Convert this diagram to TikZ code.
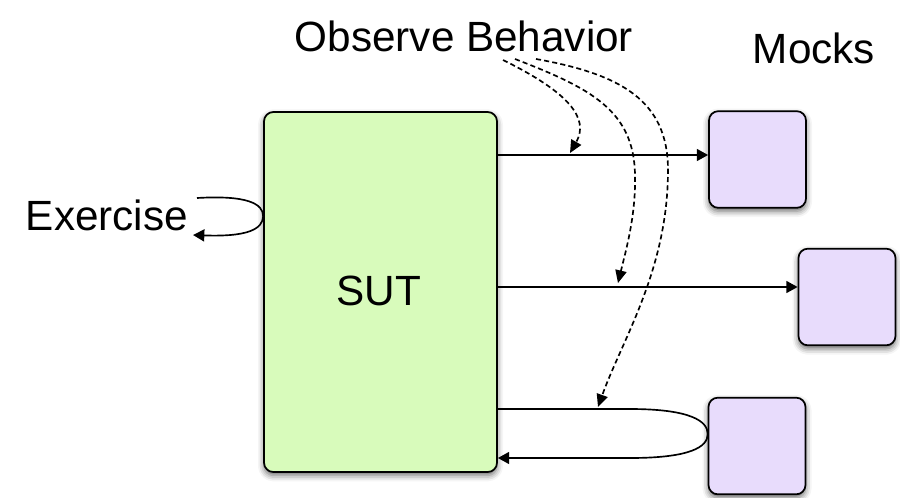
\documentclass[tikz,border=0pt]{standalone}
\usepackage{fontspec}
\setmainfont{Liberation Sans}
\usetikzlibrary{arrows.meta,shadows.blur,calc}
\definecolor{sutgreen}{RGB}{216,251,187}
\definecolor{mockpurple}{RGB}{232,220,252}
\tikzset{
  box/.style={draw=black, line width=1.3pt, rounded corners=7pt, inner sep=0pt,
    blur shadow={shadow xshift=0pt, shadow yshift=-2.5pt, shadow blur radius=4.5pt, shadow opacity=60}},
  sutbox/.style={box, fill=sutgreen, minimum width=174.75pt, minimum height=270pt},
  mockbox/.style={box, fill=mockpurple, minimum width=72.75pt, minimum height=72.5pt},
  label/.style={font=\fontsize{31.7}{36}\selectfont, inner sep=0pt, anchor=base},
  flow/.style={line width=1.25pt, -{Triangle[length=8.5pt,width=9pt]}},
  observe/.style={line width=1.25pt, dash pattern=on 3.8pt off 2.4pt,
    -{Triangle[length=9.5pt,width=8.5pt]}}
}
\begin{document}
\begin{tikzpicture}[x=0.75pt,y=-0.75pt]
\useasboundingbox (0,0) rectangle (900,497);

% system under test and its mocks
\node[sutbox] (sut) at (380.5,292) {};
\node[label] (sutlbl) at (379,305) {SUT};
\node[mockbox] (m1) at (757.5,159.5) {};
\node[mockbox] (m2) at (847,297) {};
\node[mockbox] (m3) at (757,446) {};

% captions
\node[label] (obs) at (464,51) {Observe Behavior};
\node[label] (mocks) at (814,63) {Mocks};
\node[label] (ex) at (107,230) {Exercise};

% calls from the SUT to the mocks
\draw[flow] (sut.east |- 0,155) coordinate (c1) -- (m1.west |- 0,155);
\draw[flow] (sut.east |- 0,287) coordinate (c2) -- (m2.west |- 0,287);
\draw[flow] (sut.east |- 0,409) coordinate (c3)
  -- (630,409) .. controls (690,409) and (708,421) .. (m3.west |- 0,434)
  .. controls (708,447) and (690,458) .. (630,458) -- (sut.east |- 0,458);

% exercising the SUT
\coordinate (exs) at (197,198);
\draw[flow] (exs) .. controls (248,195) and (263,204) .. (sut.west |- 0,216)
  .. controls (263,229) and (248,237) .. (193,235);

% observing the outgoing calls
\coordinate (o1) at (503,60);
\coordinate (o2) at (515,59);
\coordinate (o3) at (536,59);
\draw[observe] (o1) .. controls (568,92) and (590,118) .. (570,153);
\draw[observe] (o2) .. controls (590,88) and (634,110) .. (635,175)
  .. controls (636,215) and (626,250) .. (618,283);
\draw[observe] (o3) .. controls (620,74) and (668,100) .. (668,170)
  .. controls (668,270) and (622,340) .. (598,407);
\end{tikzpicture}
\end{document}
